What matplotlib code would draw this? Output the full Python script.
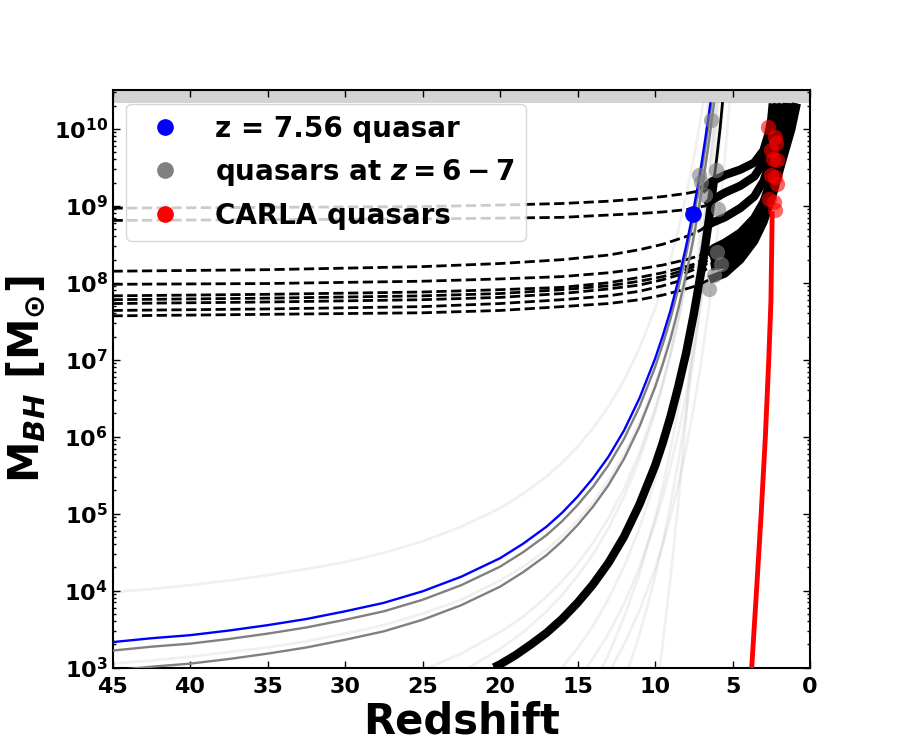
import numpy as np
import matplotlib
matplotlib.use('Agg')
import matplotlib.pyplot as plt
from matplotlib.lines import Line2D
from matplotlib.ticker import FuncFormatter, NullFormatter

plt.rcParams['font.family'] = ['DejaVu Sans']
plt.rcParams['font.weight'] = 'bold'
plt.rcParams['mathtext.fontset'] = 'dejavusans'

# log10(M_BH)
zgrid = [45, 42.5, 40, 37.5, 35, 32.5, 30, 27.5, 25, 22.5, 20, 18.5, 17, 16, 15, 14, 13, 12, 11, 10,
         9.5, 9, 8.5, 8, 7.56, 7.25, 7, 6.75, 6.5]
blue_z = zgrid + [6.43]
blue_m = [3.33, 3.38, 3.42, 3.48, 3.55, 3.63, 3.73, 3.84, 3.99, 4.18, 4.42, 4.61, 4.83, 5.01, 5.22, 5.46,
          5.74, 6.08, 6.50, 7.01, 7.31, 7.64, 8.03, 8.47, 8.90, 9.25, 9.55, 9.88, 10.23, 10.33]
gray1_z = zgrid + [6.37]
gray1_m = [3.22, 3.27, 3.31, 3.37, 3.44, 3.52, 3.62, 3.73, 3.88, 4.07, 4.31, 4.50, 4.72, 4.90, 5.11, 5.35,
           5.63, 5.97, 6.39, 6.90, 7.20, 7.53, 7.92, 8.36, 8.79, 9.14, 9.44, 9.77, 10.12, 10.33]
gray2_z = zgrid + [6.2]
gray2_m = [2.96, 3.01, 3.05, 3.11, 3.18, 3.26, 3.36, 3.47, 3.62, 3.81, 4.05, 4.24, 4.46, 4.64, 4.85, 5.09,
           5.37, 5.71, 6.13, 6.64, 6.94, 7.27, 7.66, 8.10, 8.53, 8.88, 9.18, 9.51, 9.86, 10.33]

seed_z = [20.4, 20, 19, 18, 17, 16, 15, 14, 13, 12, 11, 10, 9.5, 9, 8.5, 8, 7.5, 7, 6.75, 6.5, 6.2]
seed_m = [3.0, 3.04, 3.16, 3.30, 3.45, 3.63, 3.84, 4.08, 4.36, 4.70, 5.12, 5.62, 5.92, 6.26, 6.65, 7.08,
          7.59, 8.17, 8.49, 8.85, 9.33]
seed2_z = [6.2, 6.0, 5.8, 5.65]
seed2_m = [9.33, 9.65, 10.01, 10.33]

carla_line_z = [3.76, 3.45, 3.15, 2.88, 2.66, 2.52, 2.44]
carla_line_m = [3.0, 4.0, 5.0, 6.0, 7.0, 7.77, 8.9]

faint_z = [
    [45, 42.5, 40, 37.5, 35, 32.5, 30, 27.5, 25, 22.5, 20, 18.5, 17, 16, 15, 14, 13, 12, 11, 10, 9.5, 9,
     8.5, 8, 7.5, 7.25, 7, 6.9],
    [45, 42.5, 40, 37.5, 35, 32.5, 30, 27.5, 25, 22.5, 20, 18.5, 17, 16, 15, 14, 13, 12, 11, 10, 9.5, 9,
     8.5, 8, 7.5, 7.25, 7, 6.75, 6.5, 6.2],
    [24.6, 22.5, 20, 18.5, 17, 16, 15, 14, 13, 12, 11, 10, 9.5, 9, 8.5, 8, 7.5, 7.25, 7, 6.75, 6.5, 6.3],
    [22, 20, 18.5, 17, 16, 15, 14, 13, 12, 11, 10, 9.5, 9, 8.5, 8, 7.5, 7.25, 7, 6.75, 6.5, 6.4],
    [16, 15, 14, 13, 12, 11, 10, 9.5, 9, 8.5, 8, 7.5, 7.25, 7, 6.75, 6.5, 6.25, 6],
    [14.4, 14, 13, 12, 11, 10, 9.5, 9, 8.5, 8, 7.5, 7, 6.5, 6, 5.8, 5.6],
    [13.4, 13, 12, 11, 10, 9.5, 9, 8.5, 8, 7.5, 7, 6.75, 6.5, 6.3, 6.1],
    [12.8, 12, 11, 10, 9.5, 9, 8.5, 8, 7.5, 7, 6.5, 6, 5.5, 5.2],
    [11.7, 11, 10.5, 10, 9.5, 9, 8.5, 8, 7.5, 7, 6.5, 6.25, 6, 5.9],
    [9.7, 9.5, 9, 8.75, 8.5, 8.25, 8, 7.5, 7.25, 7, 6.8, 6.6],
]
faint_m = [
    [3.98, 4.02, 4.07, 4.13, 4.20, 4.28, 4.37, 4.49, 4.64, 4.83, 5.07, 5.26, 5.48, 5.66, 5.87, 6.11, 6.39,
     6.73, 7.15, 7.66, 7.96, 8.30, 8.68, 9.12, 9.62, 9.90, 10.20, 10.33],
    [3.05, 3.09, 3.14, 3.20, 3.26, 3.34, 3.44, 3.55, 3.70, 3.88, 4.13, 4.31, 4.53, 4.71, 4.91, 5.15, 5.43,
     5.77, 6.18, 6.68, 6.98, 7.31, 7.69, 8.13, 8.62, 8.90, 9.20, 9.52, 9.87, 10.33],
    [3.0, 3.18, 3.46, 3.66, 3.92, 4.12, 4.35, 4.62, 4.94, 5.32, 5.79, 6.36, 6.70, 7.08, 7.51, 8.00, 8.57,
     8.88, 9.22, 9.59, 9.99, 10.33],
    [3.0, 3.24, 3.46, 3.73, 3.94, 4.19, 4.47, 4.81, 5.22, 5.71, 6.31, 6.67, 7.07, 7.53, 8.05, 8.65, 8.98,
     9.34, 9.73, 10.15, 10.33],
    [3.0, 3.25, 3.54, 3.89, 4.31, 4.81, 5.43, 5.79, 6.21, 6.67, 7.20, 7.82, 8.16, 8.53, 8.92, 9.35, 9.84,
     10.33],
    [3.0, 3.12, 3.44, 3.83, 4.30, 4.88, 5.22, 5.61, 6.04, 6.54, 7.12, 7.78, 8.56, 9.47, 9.88, 10.33],
    [3.0, 3.17, 3.65, 4.22, 4.94, 5.35, 5.83, 6.37, 6.98, 7.68, 8.50, 8.95, 9.45, 9.87, 10.33],
    [3.0, 3.30, 3.74, 4.28, 4.60, 4.96, 5.37, 5.84, 6.38, 7.00, 7.73, 8.59, 9.61, 10.33],
    [3.0, 3.43, 3.79, 4.18, 4.62, 5.12, 5.67, 6.31, 7.04, 7.90, 8.89, 9.48, 10.07, 10.33],
    [3.0, 3.31, 4.17, 4.64, 5.14, 5.67, 6.24, 7.51, 8.22, 8.98, 9.63, 10.33],
]

# slow growth before the quasar epoch (dashed)
dgrid = [45, 35, 25, 20, 16, 13, 11, 9.5, 8, 7.5, 7]
dash_z = [
    dgrid,
    dgrid + [6.7],
    dgrid + [6.7],
    dgrid + [6.5],
    dgrid + [6.5],
    dgrid + [6.4],
    dgrid + [6.4],
    dgrid + [6.4],
    dgrid + [6.5],
]
dash_m = [
    [8.97, 8.98, 8.99, 9.01, 9.03, 9.06, 9.09, 9.12, 9.16, 9.18, 9.20],
    [8.81, 8.82, 8.83, 8.84, 8.85, 8.88, 8.90, 8.92, 8.95, 8.97, 8.99, 9.00],
    [8.15, 8.17, 8.21, 8.25, 8.30, 8.36, 8.43, 8.50, 8.60, 8.64, 8.69, 8.74],
    [7.98, 7.99, 8.02, 8.05, 8.08, 8.13, 8.18, 8.23, 8.30, 8.33, 8.36, 8.40],
    [7.83, 7.85, 7.88, 7.91, 7.94, 8.00, 8.07, 8.13, 8.21, 8.24, 8.29, 8.34],
    [7.78, 7.80, 7.83, 7.86, 7.91, 7.96, 8.02, 8.08, 8.17, 8.21, 8.25, 8.31],
    [7.73, 7.75, 7.78, 7.81, 7.86, 7.92, 7.97, 8.04, 8.13, 8.17, 8.21, 8.28],
    [7.64, 7.66, 7.69, 7.73, 7.78, 7.83, 7.89, 7.96, 8.05, 8.09, 8.14, 8.21],
    [7.57, 7.59, 7.61, 7.64, 7.69, 7.73, 7.78, 7.84, 7.92, 7.95, 7.99, 8.04],
]

# growth after the quasar epoch (thick)
fwd_z = [
    [7.0, 6.3, 5.5, 4.5, 3.6, 3.0, 2.7, 2.5, 2.4],
    [6.7, 6.2, 5.5, 4.5, 3.6, 3.0, 2.6, 2.3, 2.1],
    [6.7, 6.2, 5.5, 4.5, 3.6, 3.0, 2.5, 2.1, 1.8],
    [6.5, 6.2, 5.5, 4.5, 3.6, 3.0, 2.4, 1.9, 1.5],
    [6.5, 6.2, 5.5, 4.5, 3.6, 3.0, 2.4, 1.9, 1.45],
    [6.4, 5.5, 4.5, 3.6, 3.0, 2.4, 1.8, 1.3],
    [6.4, 5.5, 4.5, 3.6, 3.0, 2.4, 1.8, 1.2, 1.1],
    [6.4, 5.5, 4.5, 3.6, 3.0, 2.4, 1.8, 1.2, 0.9],
    [6.5, 5.5, 4.5, 3.6, 3.0, 2.4, 1.8, 1.2, 0.85],
]
fwd_m = [
    [9.20, 9.32, 9.40, 9.47, 9.56, 9.72, 9.92, 10.12, 10.33],
    [9.00, 9.09, 9.17, 9.26, 9.38, 9.56, 9.80, 10.07, 10.33],
    [8.74, 8.79, 8.85, 8.97, 9.12, 9.32, 9.62, 9.96, 10.33],
    [8.40, 8.45, 8.52, 8.65, 8.84, 9.05, 9.40, 9.80, 10.33],
    [8.34, 8.39, 8.48, 8.62, 8.81, 9.02, 9.37, 9.77, 10.33],
    [8.31, 8.37, 8.50, 8.70, 8.92, 9.27, 9.72, 10.33],
    [8.28, 8.31, 8.44, 8.65, 8.88, 9.23, 9.67, 10.15, 10.33],
    [8.21, 8.24, 8.38, 8.60, 8.84, 9.19, 9.62, 10.05, 10.33],
    [8.04, 8.12, 8.30, 8.54, 8.79, 9.15, 9.58, 10.00, 10.33],
]

qso_z, qso_m = 7.56, 8.90
gray_pts_z = [6.38, 7.14, 6.06, 7.03, 6.8, 5.96, 6.02, 5.74, 6.17, 6.49]
gray_pts_m = [10.11, 9.40, 9.46, 9.31, 9.14, 8.96, 8.40, 8.25, 8.10, 7.92]
carla_z = [2.73, 2.29, 2.18, 2.40, 2.14, 2.51, 2.23, 2.14, 2.62, 2.29, 2.50, 2.35]
carla_m = [10.02, 9.89, 9.81, 9.61, 9.59, 9.40, 9.37, 9.29, 9.09, 8.94, 9.72, 9.05]

labels = ['z = 7.56 quasar', r'quasars at $\boldsymbol{z}\mathbf{=6-7}$', 'CARLA quasars']


def m(v):
    return 10 ** np.array(v)


fig, ax = plt.subplots(figsize=(9, 7.5), dpi=100)
fig.subplots_adjust(left=0.125, right=0.9, bottom=0.11, top=0.88)

ax.axhspan(2.15e10, 1e11, color='lightgray', lw=0, zorder=0)

for zz, mm in zip(faint_z, faint_m):
    ax.plot(zz, m(mm), color='k', alpha=0.06, lw=2, zorder=1)

for zz, mm in zip(dash_z, dash_m):
    ax.plot(zz, m(mm), 'k--', lw=2, zorder=2)
for zz, mm in zip(fwd_z, fwd_m):
    ax.plot(zz, m(mm), 'k-', lw=6, solid_capstyle='butt', zorder=2)

ax.plot(gray2_z, m(gray2_m), color='gray', lw=1.7, zorder=3)
ax.plot(gray1_z, m(gray1_m), color='gray', lw=1.7, zorder=3)
ax.plot(blue_z, m(blue_m), color='b', lw=1.7, zorder=3)
ax.plot(seed_z, m(seed_m), 'k-', lw=6, solid_capstyle='butt', zorder=3)
ax.plot(seed2_z, m(seed2_m), 'k-', lw=2, zorder=3)
ax.plot(carla_line_z, m(carla_line_m), 'r-', lw=3.5, zorder=3)

ax.plot(gray_pts_z, m(gray_pts_m), 'o', color='gray', mec='none', ms=11, alpha=0.6, zorder=4)
ax.plot(carla_z, m(carla_m), 'o', color='r', mec='none', ms=11, alpha=0.6, zorder=4)
ax.plot([qso_z], [10 ** qso_m], 'o', color='b', mec='b', ms=11, zorder=5)

ax.set_yscale('log')
ax.set_xlim(45, 0)
ax.set_ylim(1e3, 3.2e10)
ax.set_xticks(range(45, -1, -5))
ax.set_yticks([10.0 ** k for k in range(3, 11)])
ax.yaxis.set_major_formatter(FuncFormatter(lambda v, p: r'$\mathbf{10^{%d}}$' % round(np.log10(v))))
ax.yaxis.set_minor_formatter(NullFormatter())
ax.tick_params(which='both', direction='in', top=True, right=True, labelsize=16, width=1)
ax.tick_params(which='major', length=5)
ax.tick_params(which='minor', length=2.5)
ax.tick_params(axis='x', pad=7)
for s in ax.spines.values():
    s.set_linewidth(1.5)

ax.set_xlabel('Redshift', fontsize=30, fontweight='bold', labelpad=2)
ax.set_ylabel(r'M$_{\boldsymbol{BH}}$ [M$_{\odot}$]', fontsize=30, fontweight='bold')

handles = [Line2D([], [], ls='none', marker='o', ms=11, color=c) for c in ['b', 'gray', 'r']]
ax.legend(handles, labels, loc='upper left', fontsize=20, numpoints=1)

fig.savefig('out.png', dpi=100)
